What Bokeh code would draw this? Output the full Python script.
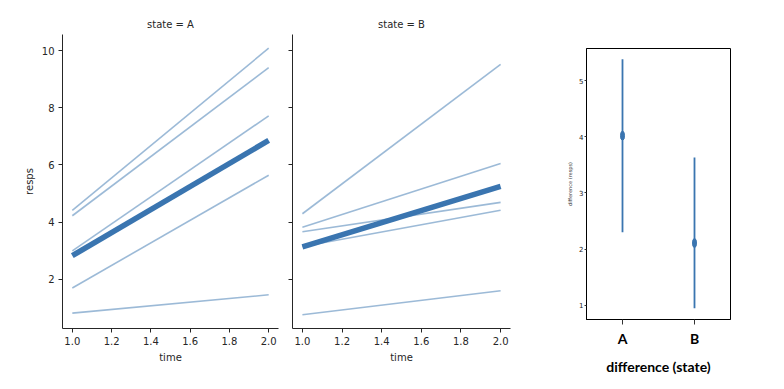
from bokeh.plotting import figure
from bokeh.layouts import row, column
from bokeh.models import (FixedTicker, NumeralTickFormatter, Range1d, FactorRange,
                          CustomJSTickFormatter)
from bokeh.embed import file_html
from bokeh.resources import INLINE

# ---- data ----
times = [1.0, 2.0]
a_start = [4.41, 4.22, 2.99, 1.69, 0.81]
a_end = [10.09, 9.41, 7.72, 5.64, 1.45]
b_start = [4.29, 3.82, 3.66, 3.14, 0.75]
b_end = [9.52, 6.05, 4.69, 4.41, 1.59]
a_mean = [2.82, 6.86]
b_mean = [3.13, 5.25]

states = ["A", "B"]
diff_mean = [4.02, 2.11]
diff_low = [2.30, 0.95]
diff_high = [5.38, 3.63]

x_ticks = [1.0, 1.2, 1.4, 1.6, 1.8, 2.0]
y_ticks = [2, 4, 6, 8, 10]
diff_ticks = [1, 2, 3, 4, 5]

BLUE = "#3a75b0"
TXT = "#262626"
FONT = "DejaVu Sans"


def style_axes(p):
    for ax in (p.xaxis[0], p.yaxis[0]):
        ax.axis_line_color = TXT
        ax.major_tick_line_color = TXT
        ax.minor_tick_line_color = None
        ax.major_tick_in = 0
        ax.major_tick_out = 4
        ax.major_label_text_font = FONT
        ax.major_label_text_font_size = "10px"
        ax.major_label_text_color = TXT
        ax.axis_label_text_font = FONT
        ax.axis_label_text_font_size = "10px"
        ax.axis_label_text_font_style = "normal"
        ax.axis_label_text_color = TXT
        ax.major_label_standoff = 4
        ax.axis_label_standoff = 4


def panel(title, starts, ends, mean, width, left, right, show_ylabels):
    p = figure(width=width, height=389, x_range=Range1d(0.95, 2.05),
               y_range=Range1d(0.27, 10.57), output_backend="svg",
               toolbar_location=None, min_border_left=left,
               min_border_right=right, min_border_top=34, min_border_bottom=61,
               title=title)
    p.title.align = "center"
    p.title.text_font = FONT
    p.title.text_font_size = "10px"
    p.title.text_font_style = "normal"
    p.title.text_color = TXT
    p.outline_line_color = None
    p.grid.grid_line_color = None
    p.background_fill_color = "white"
    p.border_fill_color = "white"
    style_axes(p)
    p.xaxis.ticker = FixedTicker(ticks=x_ticks)
    p.xaxis.formatter = NumeralTickFormatter(format="0.0")
    p.xaxis.axis_label = "time"
    p.yaxis.ticker = FixedTicker(ticks=y_ticks)
    if show_ylabels:
        p.yaxis.axis_label = "resps"
    else:
        p.yaxis.formatter = CustomJSTickFormatter(code="return '';")
        p.yaxis.major_label_standoff = 0
    xs = [times for _ in starts]
    ys = [[s, e] for s, e in zip(starts, ends)]
    p.multi_line(xs, ys, line_color=BLUE, line_alpha=0.5, line_width=1.6)
    p.line(times, mean, line_color=BLUE, line_width=5.5)
    return p


p1 = panel("state = A", a_start, a_end, a_mean, 280, 62, 2, True)
p2 = panel("state = B", b_start, b_end, b_mean, 250, 12, 20, False)

# ---- difference panel ----
p3 = figure(width=254, height=389, x_range=FactorRange(*states, range_padding=0),
            y_range=Range1d(0.75, 5.57), output_backend="svg",
            toolbar_location=None, min_border_left=56, min_border_right=54,
            min_border_top=48, min_border_bottom=70)
p3.grid.grid_line_color = None
p3.outline_line_color = "black"
p3.outline_line_width = 1
p3.background_fill_color = "white"
p3.border_fill_color = "white"

xa = p3.xaxis[0]
xa.axis_line_color = "black"
xa.major_tick_line_color = "#333333"
xa.major_tick_in = 0
xa.major_tick_out = 5
xa.major_label_text_font = "Lato"
xa.major_label_text_font_style = "bold"
xa.major_label_text_font_size = "14px"
xa.major_label_text_color = "black"
xa.major_label_standoff = 5
xa.axis_label = "difference (state)"
xa.axis_label_text_font = "Lato"
xa.axis_label_text_font_style = "bold"
xa.axis_label_text_font_size = "14px"
xa.axis_label_text_color = "black"
xa.axis_label_standoff = 8

ya = p3.yaxis[0]
ya.ticker = FixedTicker(ticks=diff_ticks)
ya.axis_line_color = "black"
ya.major_tick_line_color = "#333333"
ya.minor_tick_line_color = None
ya.major_tick_in = 0
ya.major_tick_out = 2
ya.major_label_text_font = FONT
ya.major_label_text_font_size = "7px"
ya.major_label_text_color = "#222222"
ya.major_label_standoff = 1
ya.axis_label = "difference (resps)"
ya.axis_label_text_font = FONT
ya.axis_label_text_font_size = "5px"
ya.axis_label_text_font_style = "normal"
ya.axis_label_text_color = "#333333"
ya.axis_label_standoff = 3

p3.segment(x0=states, y0=diff_low, x1=states, y1=diff_high,
           line_color=BLUE, line_width=1.8)
p3.ellipse(x=states, y=diff_mean, width=4, height=9, width_units="screen",
           height_units="screen", fill_color=BLUE, line_color=BLUE)

layout = row(row(p1, p2), column(p3))
open("out.html", "w").write(file_html(layout, INLINE))
